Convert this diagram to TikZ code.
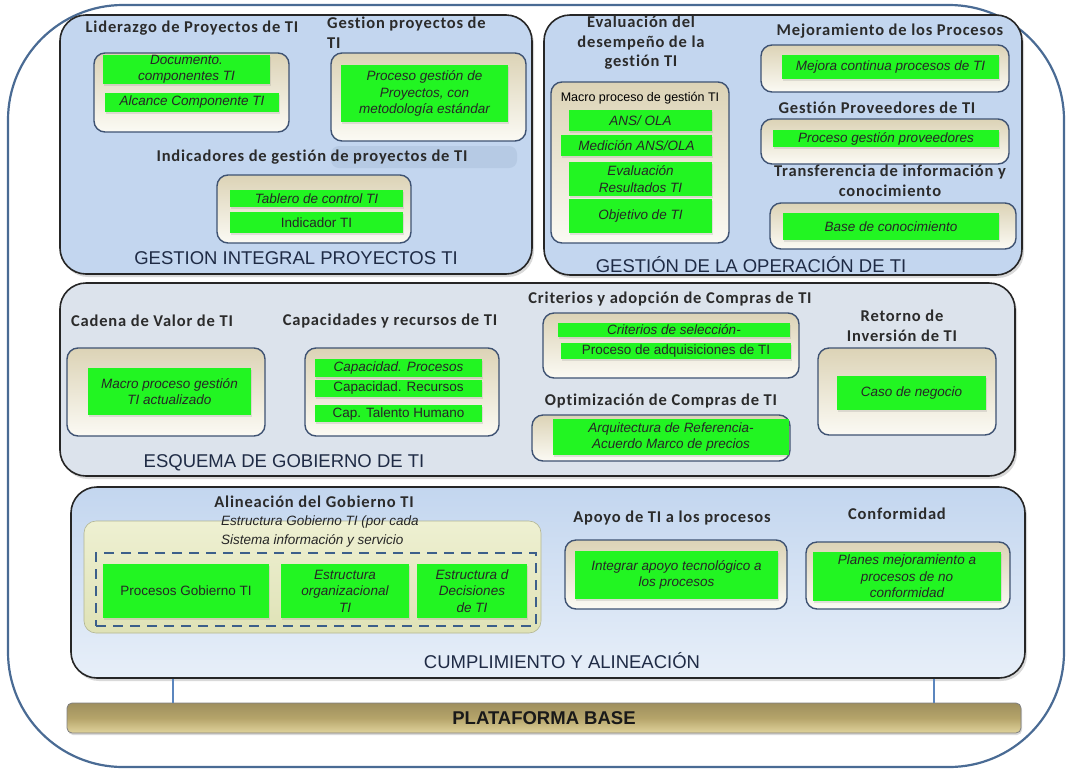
\documentclass[tikz,border=0pt]{standalone}
\usepackage{fontspec}
\setmainfont{Liberation Sans}
\newfontfamily\lblfont[LetterSpace=5, Ligatures={NoCommon}]{Carlito}
\usetikzlibrary{fit,shadows}
\definecolor{frameblue}{HTML}{4A6B94}
\definecolor{panelblue}{HTML}{C3D6EF}
\definecolor{panellight}{HTML}{DDE8F6}
\definecolor{panelgray}{HTML}{DCE3EC}
\definecolor{panelshade}{HTML}{B6CAE4}
\definecolor{creamtop}{HTML}{DCD3B6}
\definecolor{creambot}{HTML}{FBFAF4}
\definecolor{boxedge}{HTML}{3E5272}
\definecolor{tigreen}{HTML}{22F522}
\definecolor{titlenavy}{HTML}{1F2B45}
\definecolor{lblgray}{HTML}{2B2B2B}
\definecolor{olivetop}{HTML}{EEF0D2}
\definecolor{olivebot}{HTML}{DFE2B6}
\definecolor{dashblue}{HTML}{3C5F8A}
\definecolor{connblue}{HTML}{5B86BE}
\definecolor{bartop}{HTML}{9E8F5E}
\definecolor{barmid}{HTML}{B5A46A}
\definecolor{barbot}{HTML}{E0D39C}
% box from corners, with its text in a node at its centre
\newcommand{\rb}[6]{\node[#1, fit={(#3,#4) (#5,#6)}] (#2) {};}
\newcommand{\gb}[8]{\node[#1, fit={(#3,#4) (#5,#6)}] (#2) {};
  \node[#7] (#2-t) at (#2.center) {#8};}
\tikzset{
  outerframe/.style={draw=frameblue, line width=2.2pt, rounded corners=115pt, inner sep=0pt},
  panel/.style={draw=black!85, line width=1.6pt, rounded corners=26pt, inner sep=0pt,
     top color=panelblue, bottom color=panelblue,
     drop shadow={opacity=0.3, shadow xshift=2pt, shadow yshift=-3pt}},
  panelgrad/.style={panel, top color=panelblue, bottom color=panellight!70!white},
  panelg/.style={panel, top color=panelgray, bottom color=panelgray},
  inbox/.style={draw=boxedge, line width=1.4pt, rounded corners=11pt, inner sep=0pt,
     top color=creamtop, bottom color=creambot},
  gbar/.style={fill=tigreen, inner sep=0pt,
     drop shadow={opacity=0.2, shadow xshift=1pt, shadow yshift=-1.5pt}},
  gtxt/.style={inner sep=0pt, align=center, text=black!85,
     font=\itshape\fontsize{13.5}{16.5}\selectfont},
  gtxtup/.style={gtxt, font=\fontsize{13.5}{16.5}\selectfont},
  lbl/.style={font=\lblfont\bfseries\fontsize{16.5}{19.5}\selectfont, text=lblgray, align=center, inner sep=0pt},
  bigtitle/.style={font=\fontsize{18.5}{20}\selectfont, text=titlenavy, inner sep=0pt},
  olive/.style={draw=olivebot!80!black, line width=0.6pt, rounded corners=12pt, inner sep=0pt,
     top color=olivetop, bottom color=olivebot},
  dashbox/.style={draw=dashblue, line width=2.4pt, dash pattern=on 10pt off 7pt, inner sep=0pt},
  platbar/.style={draw=black!50, line width=0.8pt, rounded corners=5pt, inner sep=0pt,
     top color=bartop, bottom color=barbot, middle color=barmid,
     drop shadow={opacity=0.3, shadow xshift=1pt, shadow yshift=-2pt}},
  plattxt/.style={font=\bfseries\fontsize{18.5}{20}\selectfont, text=black!90, inner sep=0pt},
  conn/.style={draw=connblue, line width=2.4pt},
  band/.style={fill=panelshade, rounded corners=8pt, inner sep=0pt}
}
\begin{document}
\begin{tikzpicture}[x=1pt,y=-1pt]
\useasboundingbox (0,0) rectangle (1067,769);
\rb{outerframe}{frame}{8}{5}{1064}{767}
% ---------- Panel 1
\rb{panel}{pGI}{60}{15}{532}{274}
\node[lbl] (tLid) at (192,28) {Liderazgo de Proyectos de TI};
\node[lbl, align=left, anchor=north west] (tGes) at (327,17) {Gestion proyectos de\\TI};
\rb{inbox}{bLid}{94}{53}{289}{132}
\gb{gbar}{gDoc}{103}{55}{270}{84}{gtxt}{Documento.\\componentes TI}
\gb{gbar}{gAlc}{105}{93}{279}{112}{gtxt}{Alcance Componente TI}
\rb{inbox}{bGes}{331}{53}{526}{141}
\gb{gbar}{gPro}{341}{65}{508}{122}{gtxt}{Proceso gestión de\\Proyectos, con\\metodología estándar}
\rb{band}{bandInd}{331}{146}{517}{168}
\node[lbl] (tInd) at (312,157) {Indicadores de gestión de proyectos de TI};
\rb{inbox}{bInd}{217}{175}{411}{243}
\gb{gbar}{gTab}{230}{190}{403}{207}{gtxt}{Tablero de control TI}
\gb{gbar}{gIndi}{230}{212}{403}{233}{gtxtup}{Indicador TI}
\node[bigtitle] (tGI) at (296,258) {GESTION INTEGRAL PROYECTOS TI};
% ---------- Panel 2
\rb{panel}{pOP}{544}{15}{1022}{275}
\node[lbl] (tEval) at (641,43) {Evaluación del\\desempeño de la\\gestión TI};
\rb{inbox}{bMac}{551}{82}{729}{243}
\node[font=\fontsize{12.5}{14}\selectfont, inner sep=0pt] (tMac) at (640,98) {Macro proceso de gestión TI};
\gb{gbar}{gAns}{569}{110}{712}{131}{gtxt}{ANS/ OLA}
\gb{gbar}{gMed}{561}{135}{712}{156}{gtxt}{Medición ANS/OLA}
\gb{gbar}{gEva}{569}{162}{712}{196}{gtxt}{Evaluación\\Resultados TI}
\gb{gbar}{gObj}{569}{199}{712}{233}{gtxt}{Objetivo de TI}
\node[lbl] (tMej) at (890,31) {Mejoramiento de los Procesos};
\rb{inbox}{bMej}{761}{45}{1009}{92}
\gb{gbar}{gMej}{782}{55}{999}{79}{gtxt}{Mejora continua procesos de TI}
\node[lbl] (tProv) at (877,108) {Gestión Proveedores de TI};
\rb{inbox}{bProv}{761}{119}{1009}{164}
\gb{gbar}{gProv}{773}{130}{999}{147}{gtxt}{Proceso gestión proveedores}
\node[lbl] (tTra) at (890,181) {Transferencia de información y\\conocimiento};
\rb{inbox}{bTra}{770}{203}{1016}{249}
\gb{gbar}{gBas}{783}{213}{999}{240}{gtxt}{Base de conocimiento}
\node[bigtitle] (tOP) at (751,265) {GESTIÓN DE LA OPERACIÓN DE TI};
% ---------- Panel 3
\rb{panelg}{pESQ}{60}{283}{1015}{476}
\node[lbl] (tCad) at (152,321) {Cadena de Valor de TI};
\node[lbl] (tCap) at (390,321) {Capacidades y recursos de TI};
\rb{inbox}{bCad}{67}{348}{265}{436}
\gb{gbar}{gCad}{88}{368}{251}{415}{gtxt}{Macro proceso gestión\\TI actualizado}
\rb{inbox}{bCap}{305}{348}{499}{436}
\gb{gbar}{gCp1}{315}{359}{482}{377}{gtxt}{Capacidad. Procesos}
\gb{gbar}{gCp2}{315}{380}{482}{397}{gtxtup}{Capacidad. Recursos}
\gb{gbar}{gCp3}{315}{405}{482}{422}{gtxtup}{Cap. Talento Humano}
\node[bigtitle] (tESQ) at (284,463) {ESQUEMA DE GOBIERNO DE TI};
\node[lbl] (tCri) at (670,299) {Criterios y adopción de Compras de TI};
\rb{inbox}{bCri}{543}{313}{799}{378}
\gb{gbar}{gCr1}{558}{323}{790}{337}{gtxt}{Criterios de selección-}
\gb{gbar}{gCr2}{561}{343}{791}{359}{gtxtup}{Proceso de adquisiciones de TI}
\node[lbl] (tOpt) at (661,401) {Optimización de Compras de TI};
\rb{inbox}{bOpt}{532}{415}{790}{461}
\gb{gbar}{gOpt}{553}{419}{789}{455}{gtxt}{Arquitectura de Referencia-\\Acuerdo Marco de precios}
\node[lbl] (tRet) at (902,326) {Retorno de\\Inversión de TI};
\rb{inbox}{bRet}{818}{348}{996}{435}
\gb{gbar}{gRet}{837}{376}{986}{410}{gtxt}{Caso de negocio}
% ---------- Panel 4
\rb{panelgrad}{pCUM}{71}{487}{1025}{678}
\node[lbl] (tAli) at (314,502) {Alineación del Gobierno TI};
\rb{olive}{bOli}{84}{521}{541}{633}
\node[font=\itshape\fontsize{13.5}{18.5}\selectfont, align=left, anchor=north west, inner sep=0pt, text=black!85] (tEst) at (221,516) {Estructura Gobierno TI (por cada\\Sistema información y servicio};
\rb{dashbox}{bDash}{96}{553}{536}{626}
\gb{gbar}{gPGT}{103}{564}{269}{618}{gtxtup}{Procesos Gobierno TI}
\gb{gbar}{gEOT}{281}{564}{409}{618}{gtxt}{Estructura\\organizacional\\TI}
\gb{gbar}{gEDT}{417}{564}{527}{618}{gtxt}{Estructura d\\Decisiones\\de TI}
\node[lbl] (tApo) at (672,518) {Apoyo de TI a los procesos};
\rb{inbox}{bApo}{565}{540}{787}{609}
\gb{gbar}{gApo}{575}{551}{778}{599}{gtxt}{Integrar apoyo tecnológico a\\los procesos}
\node[lbl] (tCon) at (897,514) {Conformidad};
\rb{inbox}{bCon}{806}{542}{1010}{609}
\gb{gbar}{gCon}{813}{552}{1001}{601}{gtxt}{Planes mejoramiento a\\procesos de no\\conformidad}
\node[bigtitle] (tCUM) at (562,661) {CUMPLIMIENTO Y ALINEACIÓN};
% ---------- Platform
\gb{platbar}{plat}{67}{703}{1021}{733}{plattxt}{PLATAFORMA BASE}
\coordinate (xl) at (173,0);
\coordinate (xr) at (934,0);
\draw[conn] (pCUM.south -| xl) -- (plat.north -| xl);
\draw[conn] (pCUM.south -| xr) -- (plat.north -| xr);
\end{tikzpicture}
\end{document}
